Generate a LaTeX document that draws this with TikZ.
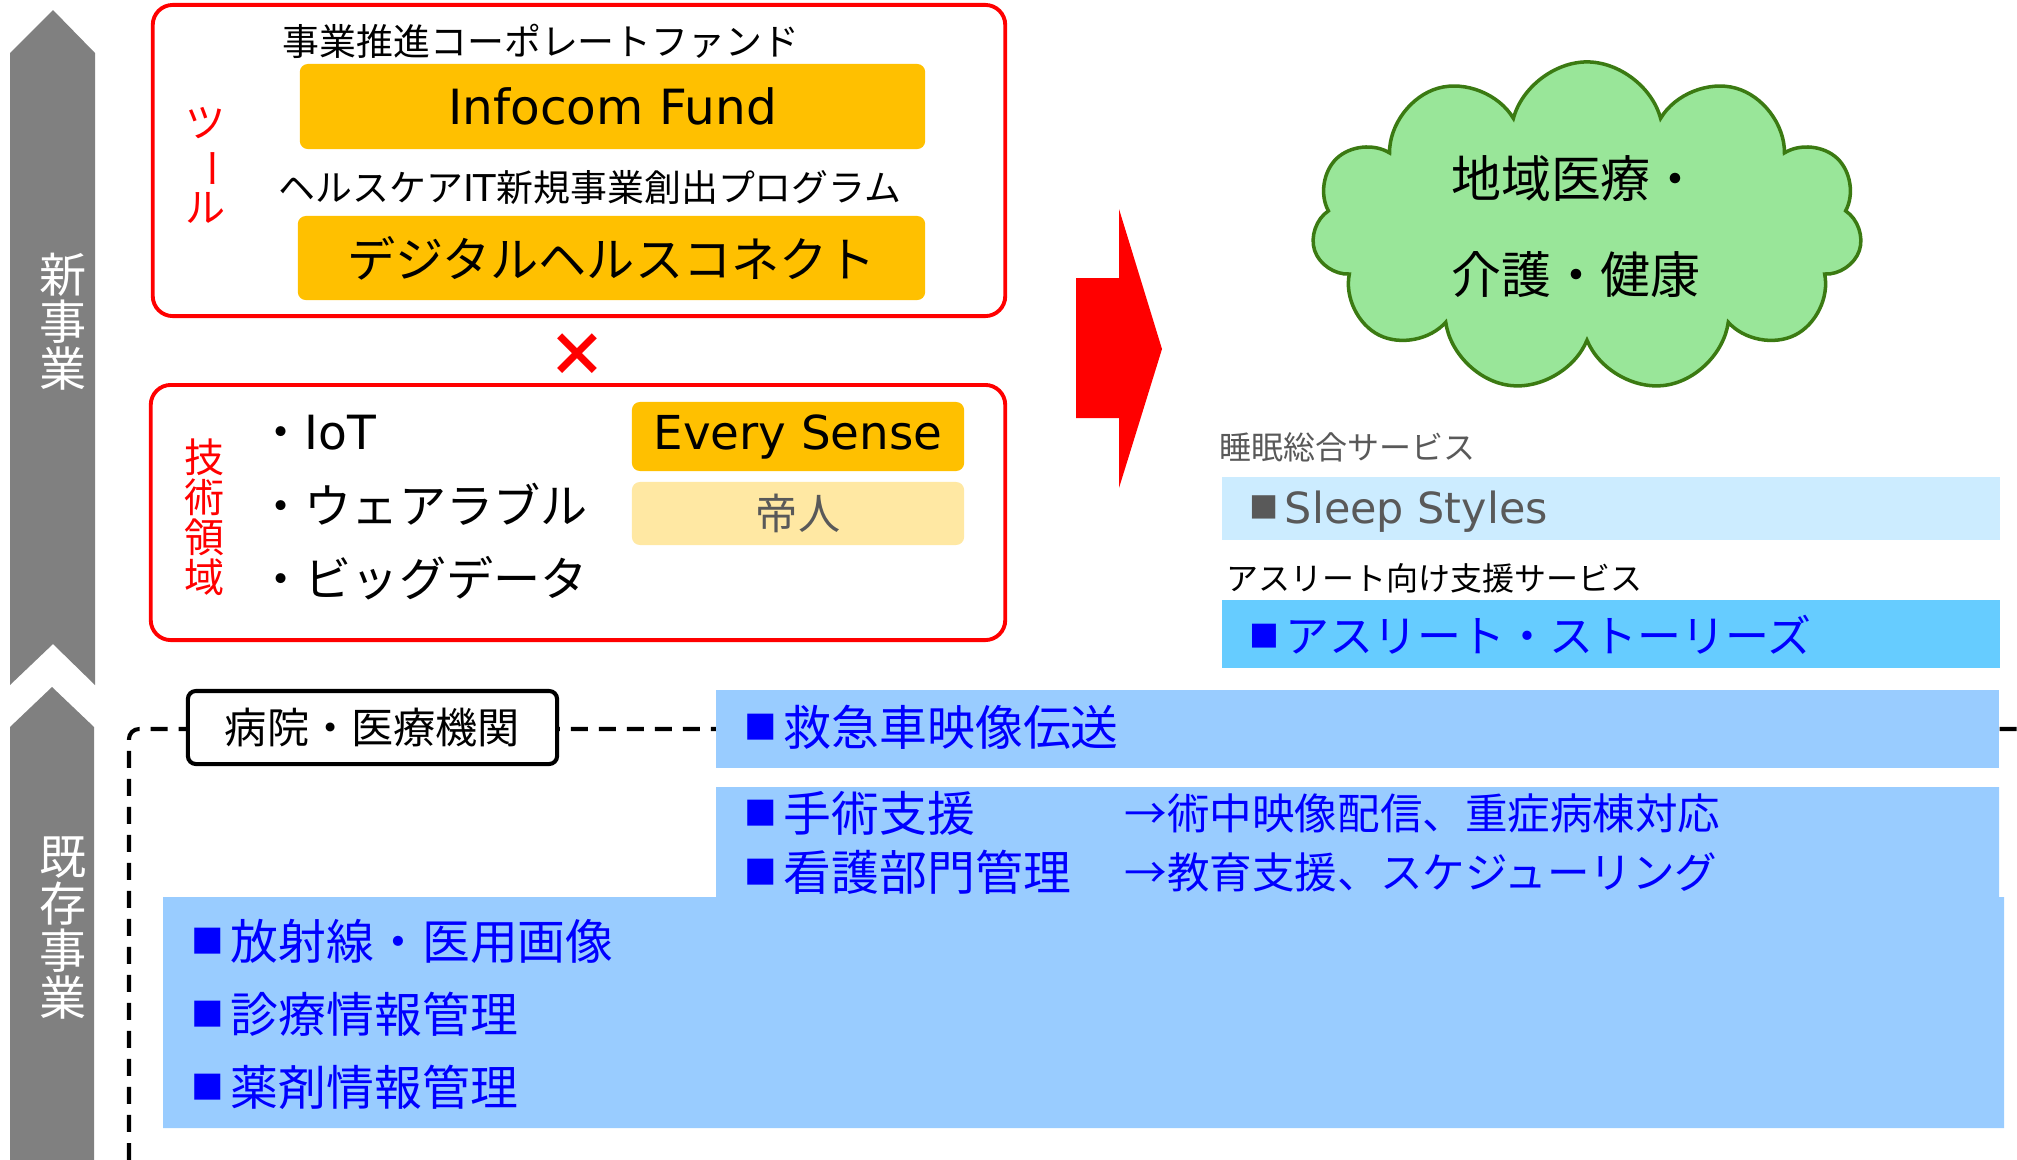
\documentclass[tikz,border=0pt]{standalone}
\usepackage{fontspec}
\usepackage{graphicx}
\usetikzlibrary{shapes.symbols}
\setmainfont{Noto Sans CJK JP}
\newfontfamily\latinfont{DejaVu Sans}
\newcommand{\fsz}[1]{\fontsize{#1}{#1}\selectfont}
\newcommand{\sq}{\raisebox{0.12em}{\scalebox{0.68}{■}}\hspace{0.14em}}
\definecolor{orangeF}{HTML}{FFC000}
\definecolor{paleYellow}{HTML}{FFE8A3}
\definecolor{arrowGray}{HTML}{808080}
\definecolor{cloudFill}{HTML}{99E699}
\definecolor{cloudEdge}{HTML}{3B7A12}
\definecolor{sleepBlue}{HTML}{CCECFF}
\definecolor{athBlue}{HTML}{66CCFF}
\definecolor{boxBlue}{HTML}{99CCFF}
\definecolor{textGray}{HTML}{595959}

\begin{document}
\begin{tikzpicture}[x=0.01cm,y=-0.01cm,
        redframe/.style={draw=red,line width=1.1pt,rounded corners=0.2cm,inner sep=0pt},
        fundbox/.style={fill=orangeF,rounded corners=0.08cm,inner sep=0pt},
        itemtext/.style={inner sep=0pt,anchor=west},
        bluetext/.style={inner sep=0pt,anchor=west,text=blue,font=\fsz{13.6pt}},
        subtext/.style={inner sep=0pt,anchor=west,text=blue,font=\fsz{12.1pt}},
        vlabel/.style={inner sep=0pt,align=center}]
    \useasboundingbox (0,0) rectangle (2017,1160);
    % gray arrows on the left
    \fill[arrowGray] (10,53)--(53,10)--(95,53)--(95,685)--(53,644)--(10,685)--cycle;
    \fill[arrowGray] (10,727)--(52,687)--(94,727)--(94,1160)--(10,1160)--cycle;
    \node[vlabel,text=white,font=\fsz{13.4pt}] (newbiz) at (63,322) {新\\事\\業};
    \node[vlabel,text=white,font=\fsz{13.4pt}] (oldbiz) at (63,928) {既\\存\\事\\業};
    % tools
    \node[redframe,minimum width=8.52cm,minimum height=3.11cm] (tools) at (579,160.5) {};
    \node[vlabel,text=red,font=\fsz{11.4pt}] (toolsT) at (206,165) {ツ\\\rotatebox[origin=c]{-90}{ー}\\ル};
    \node[inner sep=0pt,font=\fsz{10.5pt}] (fundT) at (541,41) {事業推進コーポレートファンド};
    \node[fundbox,minimum width=6.25cm,minimum height=0.85cm,font=\latinfont\fsz{13.8pt}] (fund) at (612.5,106.5) {Infocom Fund};
    \node[inner sep=0pt,font=\fsz{10.5pt}] (progT) at (590,188) {ヘルスケア{\latinfont IT}新規事業創出プログラム};
    \node[fundbox,minimum width=6.27cm,minimum height=0.84cm,font=\fsz{13.7pt}] (prog) at (611.5,258) {デジタルヘルスコネクト};
    \node[inner sep=0pt,text=red,font=\bfseries\fsz{17pt}] (times) at (577,355) {×};
    % technologies
    \node[redframe,minimum width=8.54cm,minimum height=2.55cm] (tech) at (578,512.5) {};
    \node[vlabel,text=red,font=\fsz{11.4pt}] (techT) at (205,517) {技\\術\\領\\域};
    \node[itemtext,font=\fsz{13.4pt}] (iot) at (257,433) {・{\latinfont IoT}};
    \node[itemtext,font=\fsz{13.4pt}] (wear) at (257,504) {・ウェアラブル};
    \node[itemtext,font=\fsz{13.4pt}] (bigdata) at (257,578) {・ビッグデータ};
    \node[fundbox,minimum width=3.32cm,minimum height=0.69cm,font=\latinfont\fsz{13.3pt}] (every) at (798,436.5) {Every Sense};
    \node[fundbox,fill=paleYellow,minimum width=3.32cm,minimum height=0.63cm,text=textGray,font=\fsz{12pt}] (teijin) at (798,513.5) {帝人};
    % red arrow
    \fill[red] (1076,278)--(1119,278)--(1119,209)--(1162,349)--(1119,488)--(1119,418)--(1076,418)--cycle;
    % goal
    \node[cloud,cloud puffs=11,cloud ignores aspect,draw=cloudEdge,fill=cloudFill,line width=1pt,
        minimum width=5.5cm,minimum height=3.3cm] (cloud) at (1587,227) {};
    \node[inner sep=0pt,align=center,font=\fontsize{14.2pt}{27.3pt}\selectfont] (cloudT) at (1576,227) {地域医療・\\介護・健康};
    % services
    \node[itemtext,text=textGray,font=\fsz{9.1pt}] (sleepT) at (1219,447) {睡眠総合サービス};
    \node[fill=sleepBlue,inner sep=0pt,minimum width=7.78cm,minimum height=0.63cm] (sleep) at (1611,508.5) {};
    \node[itemtext,text=textGray,font=\fsz{12.2pt}] (sleepS) at (1249,512) {\sq{\latinfont Sleep Styles}};
    \node[itemtext,font=\fsz{9.1pt}] (athT) at (1226,578) {アスリート向け支援サービス};
    \node[fill=athBlue,inner sep=0pt,minimum width=7.78cm,minimum height=0.68cm] (ath) at (1611,634) {};
    \node[itemtext,text=blue,font=\fsz{12.5pt}] (athS) at (1249,635) {\sq アスリート・ストーリーズ};
    % existing business
    \coordinate (dashL) at (129,1160);
    \coordinate (dashR) at (2017,729);
    \draw[line width=1.15pt,dash pattern=on 0.17cm off 0.11cm,rounded corners=0.1cm] (dashL) |- (dashR);
    \node[draw,fill=white,line width=1.15pt,rounded corners=0.08cm,minimum width=3.69cm,minimum height=0.73cm,
        inner sep=0pt,font=\fsz{12pt}] (hosp) at (372.5,727.5) {病院・医療機関};
    \node[fill=boxBlue,inner sep=0pt,minimum width=12.83cm,minimum height=0.78cm] (ambu) at (1357.5,729) {};
    \fill[boxBlue] (716,787)--(1999,787)--(1999,897)--(2004,897)--(2004,1128)--(163,1128)--(163,897)--(716,897)--cycle;
    \node[bluetext] (ambuT) at (744,727) {\sq 救急車映像伝送};
    \node[bluetext] (surg) at (744,813) {\sq 手術支援};
    \node[subtext] (surgS) at (1124,813) {→術中映像配信、重症病棟対応};
    \node[bluetext] (nurse) at (744,872) {\sq 看護部門管理};
    \node[subtext] (nurseS) at (1124,872) {→教育支援、スケジューリング};
    \node[bluetext] (rad) at (191,941) {\sq 放射線・医用画像};
    \node[bluetext] (clin) at (191,1014) {\sq 診療情報管理};
    \node[bluetext] (drug) at (191,1087) {\sq 薬剤情報管理};
\end{tikzpicture}
\end{document}
